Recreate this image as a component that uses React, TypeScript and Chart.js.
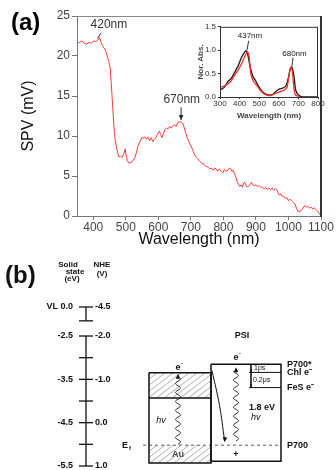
import React, { useEffect, useRef } from 'react';
import { Chart, registerables } from 'chart.js';

Chart.register(...registerables);

const FONT = '"Liberation Sans", Arial, Helvetica, sans-serif';

// ---------------- (a) SPV spectrum ----------------
const SPV_NM = [350,358,365,372,380,388,395,402,408,414,419,423,428,432,436,440,444,448,452,455,458,461,464,467,471,475,479,484,489,494,498,501,505,510,516,522,528,533,538,544,549,554,558,563,568,573,578,583,588,593,598,603,607,611,615,620,625,630,635,640,645,650,655,660,665,670,675,680,684,688,693,697,702,707,712,717,722,728,733,738,743,748,753,758,763,768,773,778,783,788,793,798,803,808,813,818,822,826,830,834,838,842,846,850,854,858,862,866,870,874,878,882,886,890,895,900,905,910,915,920,925,930,935,940,945,950,955,960,964,968,972,976,980,985,990,995,1000,1005,1010,1015,1020,1025,1030,1035,1040,1045,1050,1055,1060,1065,1070,1075,1080,1085,1090,1095,1098];
const SPV_MV = [21.6,21.7,21.9,21.6,21.5,21.7,21.6,21.9,21.8,22.0,22.3,21.8,21.3,21.0,20.9,20.4,19.8,19.3,18.5,16.8,14.8,12.8,10.9,9.6,8.7,7.9,7.4,7.5,7.3,7.8,8.4,7.6,6.9,6.6,6.7,6.9,7.3,8.0,8.8,9.3,9.8,9.7,9.9,9.6,9.9,9.4,9.8,9.3,9.6,9.8,10.3,10.6,10.2,9.8,10.2,10.8,11.0,10.9,11.2,11.0,11.3,11.4,11.2,11.7,11.8,11.7,11.6,11.0,10.4,9.9,9.4,9.0,8.6,8.1,7.6,7.3,7.1,6.8,6.6,6.6,6.3,6.2,6.1,5.9,6.0,5.7,6.0,5.9,5.6,5.9,5.6,5.4,5.8,5.6,5.7,6.0,5.9,5.6,5.7,5.3,4.9,4.3,4.0,3.7,3.9,3.6,4.1,4.2,3.8,3.6,3.8,3.9,4.2,3.9,3.8,3.9,3.7,3.8,3.6,3.6,3.4,3.6,3.3,3.5,3.3,3.5,3.2,3.4,3.3,2.9,2.6,2.8,2.5,2.5,2.2,2.3,1.9,2.1,1.9,1.7,1.5,0.9,0.5,0.6,0.7,1.0,1.3,1.1,1.2,1.0,1.1,0.9,1.0,0.8,0.6,0.3,0.1];
const SPV_X_RANGE = [350, 1100];
const SPV_Y_RANGE = [0, 25];
// annotation: [text, text nm, text mV, line from nm, from mV, to nm, to mV]
const NOTE_420 = ['420nm', 448, 23.9, 424, 22.9, 413, 22.2];
const NOTE_670 = ['670nm', 672, 14.6, 670, 13.6, 670, 12.0];

// ---------------- (a) inset absorption ----------------
const ABS_BLACK_NM = [300,323,340,358,375,393,410,424,433,442,454,468,480,498,515,541,567,585,602,620,637,650,658,667,678,686,699,716,751,800];
const ABS_BLACK = [0.15,0.21,0.33,0.40,0.53,0.67,0.85,0.95,0.99,0.90,0.64,0.44,0.36,0.22,0.12,0.05,0.05,0.12,0.17,0.19,0.24,0.43,0.60,0.64,0.43,0.15,0.05,0.01,0,0];
const ABS_RED_NM = [300,323,340,358,375,393,410,428,440,449,457,471,489,506,532,559,585,611,629,643,651,660,667,674,681,690,707];
const ABS_RED = [0.21,0.24,0.28,0.35,0.47,0.58,0.71,0.88,0.97,0.85,0.50,0.33,0.24,0.14,0.05,0.03,0.08,0.12,0.15,0.22,0.43,0.63,0.60,0.33,0.08,0.03,0.01];
const NOTE_437 = ['437nm', 453, 1.30, 446, 1.2, 438, 1.0];
const NOTE_680 = ['680nm', 680, 0.92, 673, 0.84, 667, 0.66];

// ---------------- (b) energy diagram (y in eV, solid-state scale) ----------------
const SCALE_TICKS_EV = [-2.5, -3.0, -3.5, -4.0, -4.5, -5.0, -5.5];
const SCALE_LABEL_EV = [-2.5, -3.5, -4.5, -5.5];
const SOLID_LABELS = ['-2.5', '-3.5', '-4.5', '-5.5'];
const NHE_LABELS = ['-2.0', '-1.0', '0.0', '1.0'];
const VL_BREAK_EV = [-1.83, -2.15]; // broken-axis segment carrying the vacuum level
const AU_LEVELS_EV = [-3.35, -3.93, -5.02, -5.43]; // top, band edge, Ef, bottom
const PSI_LEVELS_EV = [-3.15, -3.34, -3.69, -5.02, -5.39]; // P700*, Chl e-, FeS e-, P700, bottom
const DIAGRAM_Y_RANGE = [-5.592, -0.515];
const COLUMN_X = [86, 149, 211, 281]; // axis, Au left, Au/PSI shared edge, PSI right

function ptsOf(xs: number[], ys: number[]) {
  const n = Math.min(xs.length, ys.length);
  const out: { x: number; y: number }[] = [];
  for (let i = 0; i < n; i++) out.push({ x: xs[i], y: ys[i] });
  return out;
}

function arrowHead(ctx: CanvasRenderingContext2D, x: number, y: number, angle: number, size: number) {
  ctx.save();
  ctx.translate(x, y);
  ctx.rotate(angle);
  ctx.beginPath();
  ctx.moveTo(0, 0);
  ctx.lineTo(-size, -size * 0.45);
  ctx.lineTo(-size, size * 0.45);
  ctx.closePath();
  ctx.fill();
  ctx.restore();
}

function squiggle(ctx: CanvasRenderingContext2D, x: number, yBottom: number, yTop: number, amp: number, period: number) {
  ctx.beginPath();
  const len = yBottom - yTop;
  for (let t = 0; t <= len; t += 0.5) {
    const px = x + amp * Math.sin((2 * Math.PI * t) / period);
    if (t === 0) ctx.moveTo(px, yBottom - t);
    else ctx.lineTo(px, yBottom - t);
  }
  ctx.stroke();
}

function hatch(ctx: CanvasRenderingContext2D, x0: number, y0: number, x1: number, y1: number, spacing: number) {
  ctx.save();
  ctx.beginPath();
  ctx.rect(x0, y0, x1 - x0, y1 - y0);
  ctx.clip();
  ctx.beginPath();
  const h = y1 - y0;
  for (let s = -h * 1.3; s < x1 - x0; s += spacing) {
    ctx.moveTo(x0 + s, y1);
    ctx.lineTo(x0 + s + h * 1.3, y0);
  }
  ctx.stroke();
  ctx.restore();
}

function seg(points: { x: number; y: number }[], color = '#111', width = 1.3, dash: number[] = [], tension = 0) {
  return {
    data: points,
    showLine: true,
    borderColor: color,
    borderWidth: width,
    borderDash: dash,
    pointRadius: 0,
    fill: false,
    tension,
  };
}

const mainDecor = {
  id: 'mainDecor',
  afterDraw(chart: any) {
    const { ctx, chartArea: a, scales } = chart;
    const X = (v: number) => scales.x.getPixelForValue(v);
    const Y = (v: number) => scales.y.getPixelForValue(v);
    ctx.save();
    ctx.strokeStyle = '#888';
    ctx.lineWidth = 1;
    ctx.beginPath();
    ctx.moveTo(a.left, a.top + 0.5);
    ctx.lineTo(a.right, a.top + 0.5);
    ctx.stroke();
    ctx.strokeStyle = '#333';
    ctx.lineWidth = 2;
    ctx.beginPath();
    ctx.moveTo(a.right, a.top);
    ctx.lineTo(a.right, a.bottom + 1);
    ctx.stroke();

    ctx.fillStyle = '#000';
    ctx.font = `bold 24px ${FONT}`;
    ctx.textAlign = 'left';
    ctx.textBaseline = 'middle';
    ctx.fillText('(a)', 11, 23);

    ctx.font = `12px ${FONT}`;
    ctx.fillStyle = '#333';
    ctx.textAlign = 'center';
    ctx.strokeStyle = '#333';
    ctx.lineWidth = 1;
    for (const n of [NOTE_420, NOTE_670]) {
      ctx.fillText(n[0] as string, X(n[1] as number), Y(n[2] as number));
      ctx.beginPath();
      ctx.moveTo(X(n[3] as number), Y(n[4] as number));
      ctx.lineTo(X(n[5] as number), Y(n[6] as number));
      ctx.stroke();
    }
    ctx.fillStyle = '#222';
    arrowHead(ctx, X(NOTE_670[5] as number), Y(NOTE_670[6] as number), Math.PI / 2, 5);
    ctx.restore();
  },
};

const insetDecor = {
  id: 'insetDecor',
  afterDraw(chart: any) {
    const { ctx, chartArea: a, scales } = chart;
    const X = (v: number) => scales.x.getPixelForValue(v);
    const Y = (v: number) => scales.y.getPixelForValue(v);
    ctx.save();
    ctx.strokeStyle = '#333';
    ctx.lineWidth = 1;
    ctx.strokeRect(a.left + 0.5, a.top + 0.5, a.right - a.left - 1, a.bottom - a.top);
    ctx.font = `8px ${FONT}`;
    ctx.fillStyle = '#222';
    ctx.textAlign = 'center';
    ctx.textBaseline = 'middle';
    for (const n of [NOTE_437, NOTE_680]) {
      ctx.fillText(n[0] as string, X(n[1] as number), Y(n[2] as number));
      ctx.beginPath();
      ctx.moveTo(X(n[3] as number), Y(n[4] as number));
      ctx.lineTo(X(n[5] as number), Y(n[6] as number));
      ctx.stroke();
    }
    ctx.restore();
  },
};

function eMinus(ctx: CanvasRenderingContext2D, x: number, y: number) {
  ctx.font = `bold 9px ${FONT}`;
  ctx.textAlign = 'center';
  ctx.fillText('e', x, y);
  ctx.font = `bold 6px ${FONT}`;
  ctx.fillText('-', x + 4, y - 4);
}

const diagramDecor = {
  id: 'diagramDecor',
  beforeDatasetsDraw(chart: any) {
    const { ctx, scales } = chart;
    const X = (v: number) => scales.x.getPixelForValue(v);
    const Y = (v: number) => scales.y.getPixelForValue(v);
    ctx.save();
    ctx.strokeStyle = '#999';
    ctx.lineWidth = 0.8;
    hatch(ctx, X(COLUMN_X[1]), Y(AU_LEVELS_EV[0]), X(COLUMN_X[2]), Y(AU_LEVELS_EV[1]), 8);
    hatch(ctx, X(COLUMN_X[1]), Y(AU_LEVELS_EV[2]), X(COLUMN_X[2]), Y(AU_LEVELS_EV[3]), 8);
    ctx.restore();
  },
  afterDatasetsDraw(chart: any) {
    const { ctx, scales } = chart;
    const X = (v: number) => scales.x.getPixelForValue(v);
    const Y = (v: number) => scales.y.getPixelForValue(v);
    ctx.save();
    ctx.fillStyle = '#111';
    ctx.strokeStyle = '#222';
    ctx.textBaseline = 'middle';

    // panel letter
    ctx.font = `bold 24px ${FONT}`;
    ctx.textAlign = 'left';
    ctx.fillText('(b)', 5, Y(-1.12));

    // header
    ctx.font = `bold 8px ${FONT}`;
    ctx.textAlign = 'center';
    ctx.fillText('Solid', 68, Y(-0.86));
    ctx.fillText('state', 75, Y(-1.02));
    ctx.fillText('(eV)', 72, Y(-1.18));
    ctx.fillText('NHE', 102, Y(-0.86));
    ctx.fillText('(V)', 102, Y(-1.06));

    // scale labels
    ctx.font = `bold 9px ${FONT}`;
    ctx.textAlign = 'right';
    ctx.fillText('VL 0.0', X(COLUMN_X[0]) - 13, Y(VL_BREAK_EV[0]));
    SCALE_LABEL_EV.forEach((v, i) => ctx.fillText(SOLID_LABELS[i], X(COLUMN_X[0]) - 13, Y(v)));
    ctx.textAlign = 'left';
    ctx.fillText('-4.5', X(COLUMN_X[0]) + 9, Y(VL_BREAK_EV[0]));
    SCALE_LABEL_EV.forEach((v, i) => ctx.fillText(NHE_LABELS[i], X(COLUMN_X[0]) + 9, Y(v)));

    // photons (wavy) and arrows
    ctx.lineWidth = 1;
    const auX = X((COLUMN_X[1] + COLUMN_X[2]) / 2 - 2);
    squiggle(ctx, auX, Y(AU_LEVELS_EV[2]) - 1, Y(AU_LEVELS_EV[0]) + 5, 2.5, 9);
    arrowHead(ctx, auX, Y(AU_LEVELS_EV[0]) + 1, -Math.PI / 2, 5);
    const psiX = X(236);
    squiggle(ctx, psiX, Y(-4.92), Y(PSI_LEVELS_EV[0]) + 7, 2.5, 9);
    arrowHead(ctx, psiX, Y(PSI_LEVELS_EV[0]) + 3, -Math.PI / 2, 5);
    // curved transfer arrow head
    arrowHead(ctx, X(224.5), Y(-4.95), Math.PI / 2 + 0.1, 5);
    // bracket arrow heads
    arrowHead(ctx, X(251), Y(PSI_LEVELS_EV[1]), Math.PI / 2, 3);
    arrowHead(ctx, X(251), Y(PSI_LEVELS_EV[2]), Math.PI / 2, 3);

    // e- labels
    eMinus(ctx, auX, Y(-3.22));
    eMinus(ctx, psiX, Y(-3.0));

    // texts
    ctx.font = `bold 9px ${FONT}`;
    ctx.textAlign = 'center';
    ctx.fillText('PSI', X(242), Y(-2.5));
    ctx.fillStyle = '#444';
    ctx.fillText('Au', auX, Y(-5.24));
    ctx.fillStyle = '#111';
    ctx.fillText('+', psiX, Y(-5.24));
    ctx.font = `italic 9px ${FONT}`;
    ctx.fillText('hv', X(161), Y(-4.44));
    ctx.textAlign = 'left';
    ctx.font = `bold 9px ${FONT}`;
    ctx.fillText('1.8 eV', X(249), Y(-4.14));
    ctx.font = `italic 9px ${FONT}`;
    ctx.fillText('hv', X(251), Y(-4.38));
    ctx.font = `7px ${FONT}`;
    ctx.fillText('1ps', X(254), Y((PSI_LEVELS_EV[0] + PSI_LEVELS_EV[1]) / 2));
    ctx.fillText('0.2μs', X(253), Y((PSI_LEVELS_EV[1] + PSI_LEVELS_EV[2]) / 2));

    // right labels
    ctx.font = `bold 9px ${FONT}`;
    const rx = X(COLUMN_X[3]) + 6;
    ctx.fillText('P700*', rx, Y(PSI_LEVELS_EV[0]));
    ctx.fillText('Chl e⁻', rx, Y(PSI_LEVELS_EV[1]));
    ctx.fillText('FeS e⁻', rx, Y(PSI_LEVELS_EV[2]));
    ctx.fillText('P700', rx, Y(PSI_LEVELS_EV[3]));

    // Ef label
    ctx.textAlign = 'left';
    ctx.font = `bold 9px ${FONT}`;
    ctx.fillText('E', X(122), Y(AU_LEVELS_EV[2]));
    ctx.font = `bold 6px ${FONT}`;
    ctx.fillText('f', X(129), Y(AU_LEVELS_EV[2]) + 3);
    ctx.restore();
  },
};

export default function App() {
  const mainRef = useRef<HTMLCanvasElement>(null);
  const insetRef = useRef<HTMLCanvasElement>(null);
  const diagRef = useRef<HTMLCanvasElement>(null);

  useEffect(() => {
    const tickFont = { family: FONT, size: 12 };
    const plain = (v: any) => String(v);
    const main = new Chart(mainRef.current as HTMLCanvasElement, {
      type: 'line',
      data: {
        datasets: [
          {
            data: ptsOf(SPV_NM, SPV_MV),
            borderColor: '#ff3b3b',
            borderWidth: 1,
            pointRadius: 0,
            tension: 0,
          },
        ],
      },
      options: {
        animation: false,
        responsive: false,
        maintainAspectRatio: false,
        layout: { padding: { left: 0, right: 15, top: 16, bottom: 0 } },
        plugins: { legend: { display: false }, tooltip: { enabled: false } },
        scales: {
          x: {
            type: 'linear',
            min: SPV_X_RANGE[0],
            max: SPV_X_RANGE[1],
            ticks: { stepSize: 100, includeBounds: false, font: tickFont, color: '#444', padding: 0, maxRotation: 0, autoSkip: false, callback: plain },
            grid: { drawOnChartArea: false, tickLength: 4, color: '#777' },
            border: { color: '#777', width: 1 },
            title: { display: true, text: 'Wavelength (nm)', font: { family: FONT, size: 16 }, color: '#111', padding: { top: 0, bottom: 1 } },
            afterFit: (s: any) => { s.height = 34; },
          },
          y: {
            type: 'linear',
            min: SPV_Y_RANGE[0],
            max: SPV_Y_RANGE[1],
            ticks: { stepSize: 5, font: tickFont, color: '#444', padding: 2, callback: plain },
            grid: { drawOnChartArea: false, tickLength: 5, color: '#777' },
            border: { color: '#777', width: 1 },
            title: { display: true, text: 'SPV (mV)', font: { family: FONT, size: 16 }, color: '#111', padding: { top: 19, bottom: 0 } },
            afterFit: (s: any) => { s.width = 77; },
          },
        },
      } as any,
      plugins: [mainDecor],
    });

    const smallFont = { family: FONT, size: 8 };
    const inset = new Chart(insetRef.current as HTMLCanvasElement, {
      type: 'line',
      data: {
        datasets: [
          { data: ptsOf(ABS_RED_NM, ABS_RED), borderColor: '#ff2a2a', borderWidth: 1.3, pointRadius: 0, tension: 0.2 },
          { data: ptsOf(ABS_BLACK_NM, ABS_BLACK), borderColor: '#1a1a1a', borderWidth: 1.3, pointRadius: 0, tension: 0.2 },
        ],
      },
      options: {
        animation: false,
        responsive: false,
        maintainAspectRatio: false,
        layout: { padding: { left: 0, right: 14, top: 5, bottom: 0 } },
        plugins: { legend: { display: false }, tooltip: { enabled: false } },
        scales: {
          x: {
            type: 'linear',
            min: 300,
            max: 800,
            ticks: { stepSize: 100, font: smallFont, color: '#333', padding: 0, maxRotation: 0, autoSkip: false, callback: plain },
            grid: { drawOnChartArea: false, tickLength: 2, color: '#333' },
            border: { color: '#333' },
            title: { display: true, text: 'Wavelength (nm)', font: { family: FONT, size: 8, weight: 'bold' }, color: '#444', padding: { top: 0, bottom: 1 } },
            afterFit: (s: any) => { s.height = 25; },
          },
          y: {
            type: 'linear',
            min: 0,
            max: 1.5,
            ticks: { stepSize: 0.5, font: smallFont, color: '#333', padding: 2, callback: (v: any) => Number(v).toFixed(1) },
            grid: { drawOnChartArea: false, tickLength: 2, color: '#333' },
            border: { color: '#333' },
            title: { display: true, text: 'Nor. Abs.', font: { family: FONT, size: 8, weight: 'bold' }, color: '#444', padding: { top: 6, bottom: 0 } },
            afterFit: (s: any) => { s.width = 30; },
          },
        },
      } as any,
      plugins: [insetDecor],
    });

    const ax = COLUMN_X[0];
    const datasets: any[] = [];
    datasets.push(seg([{ x: ax, y: SCALE_TICKS_EV[0] }, { x: ax, y: SCALE_TICKS_EV[SCALE_TICKS_EV.length - 1] }]));
    datasets.push(seg([{ x: ax, y: VL_BREAK_EV[0] }, { x: ax, y: VL_BREAK_EV[1] }]));
    for (const v of [...SCALE_TICKS_EV, ...VL_BREAK_EV]) {
      datasets.push(seg([{ x: ax - 7, y: v }, { x: ax + 7, y: v }]));
    }
    // Au box
    datasets.push(seg([
      { x: COLUMN_X[1], y: AU_LEVELS_EV[0] }, { x: COLUMN_X[2], y: AU_LEVELS_EV[0] },
      { x: COLUMN_X[2], y: AU_LEVELS_EV[3] }, { x: COLUMN_X[1], y: AU_LEVELS_EV[3] },
      { x: COLUMN_X[1], y: AU_LEVELS_EV[0] },
    ], '#111', 1.5));
    datasets.push(seg([{ x: COLUMN_X[1], y: AU_LEVELS_EV[1] }, { x: COLUMN_X[2], y: AU_LEVELS_EV[1] }], '#111', 1.3));
    // PSI box
    datasets.push(seg([
      { x: COLUMN_X[2], y: PSI_LEVELS_EV[0] }, { x: COLUMN_X[3], y: PSI_LEVELS_EV[0] },
      { x: COLUMN_X[3], y: PSI_LEVELS_EV[4] }, { x: COLUMN_X[2], y: PSI_LEVELS_EV[4] },
      { x: COLUMN_X[2], y: PSI_LEVELS_EV[0] },
    ], '#111', 1.5));
    datasets.push(seg([{ x: 249, y: PSI_LEVELS_EV[1] }, { x: COLUMN_X[3], y: PSI_LEVELS_EV[1] }], '#111', 1));
    datasets.push(seg([{ x: 249, y: PSI_LEVELS_EV[2] }, { x: COLUMN_X[3], y: PSI_LEVELS_EV[2] }], '#111', 1));
    datasets.push(seg([{ x: 251, y: PSI_LEVELS_EV[0] }, { x: 251, y: PSI_LEVELS_EV[2] }], '#111', 0.8));
    // Ef / P700 dashed level
    datasets.push(seg([{ x: 143, y: AU_LEVELS_EV[2] }, { x: COLUMN_X[3], y: PSI_LEVELS_EV[3] }], '#777', 1.2, [3, 3]));
    // curved electron transfer
    datasets.push(seg([{ x: 212, y: -3.3 }, { x: 219.5, y: -4.1 }, { x: 224.5, y: -4.9 }], '#111', 1, [], 0.4));

    const diag = new Chart(diagRef.current as HTMLCanvasElement, {
      type: 'scatter',
      data: { datasets },
      options: {
        animation: false,
        responsive: false,
        maintainAspectRatio: false,
        layout: { padding: 0 },
        plugins: { legend: { display: false }, tooltip: { enabled: false } },
        scales: {
          x: { type: 'linear', min: 0, max: 336, display: false },
          y: { type: 'linear', min: DIAGRAM_Y_RANGE[0], max: DIAGRAM_Y_RANGE[1], display: false },
        },
      } as any,
      plugins: [diagramDecor],
    });

    return () => {
      main.destroy();
      inset.destroy();
      diag.destroy();
    };
  }, []);

  return (
    <div style={{ position: 'absolute', left: 0, top: 0, width: 336, height: 470, background: '#fff', overflow: 'hidden' }}>
      <canvas ref={mainRef} width={336} height={250} style={{ position: 'absolute', left: 0, top: 0, width: 336, height: 250 }} />
      <canvas ref={insetRef} width={142} height={102} style={{ position: 'absolute', left: 190, top: 20, width: 142, height: 102 }} />
      <canvas ref={diagRef} width={336} height={220} style={{ position: 'absolute', left: 0, top: 250, width: 336, height: 220 }} />
    </div>
  );
}
